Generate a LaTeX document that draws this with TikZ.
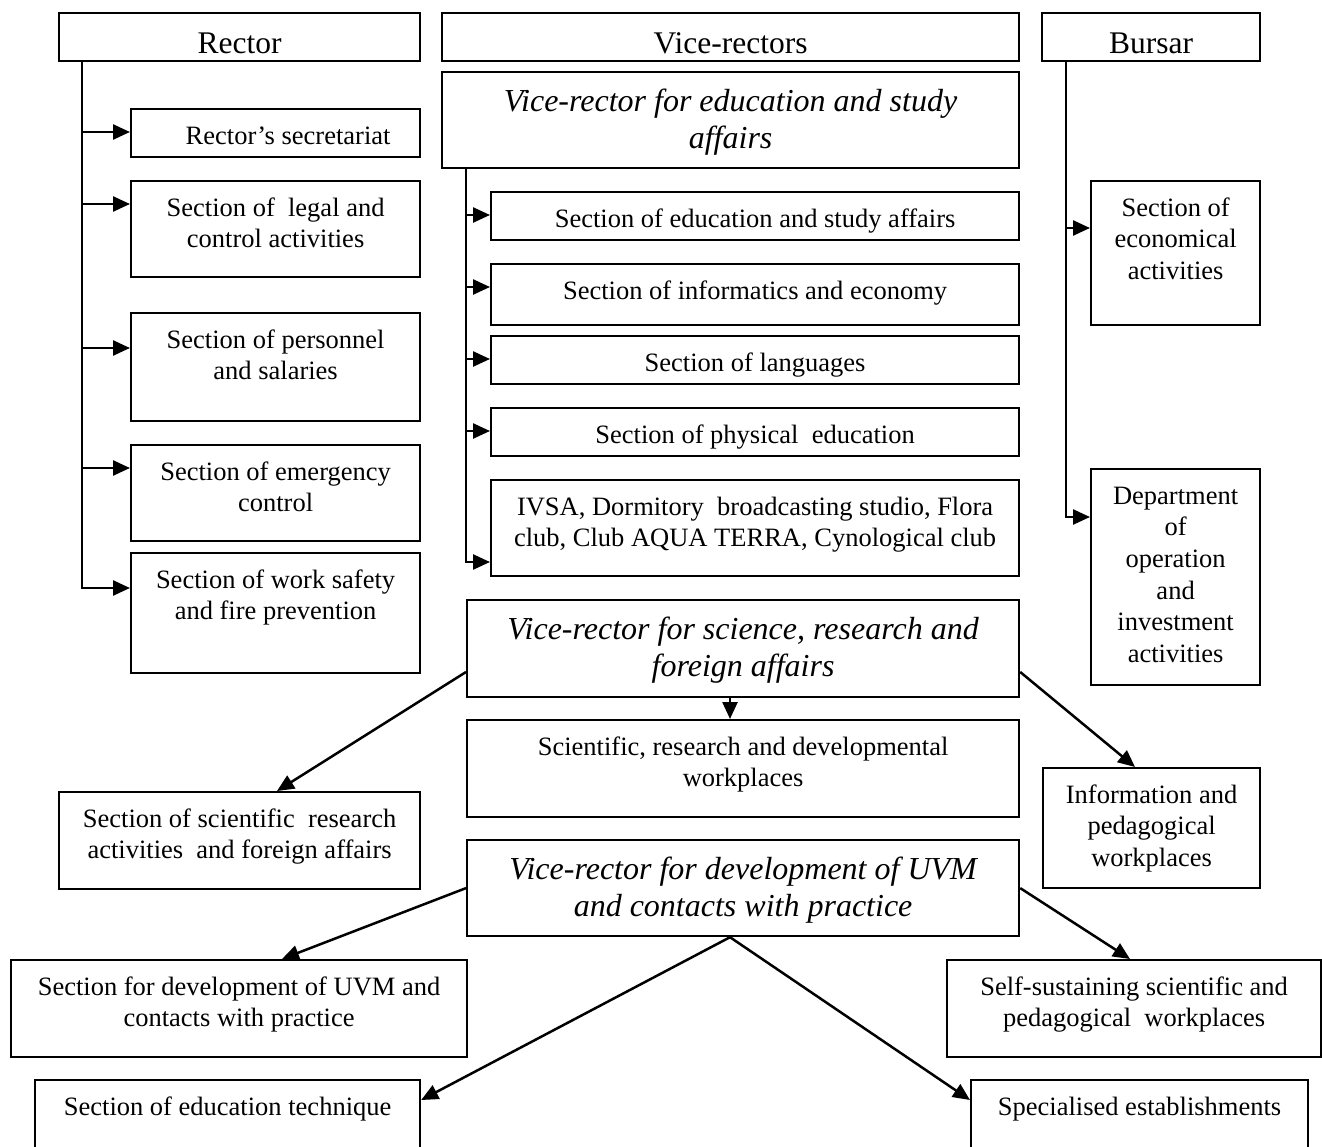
\documentclass[tikz,border=0pt]{standalone}
\usepackage{fontspec}
\setmainfont{Liberation Serif}
\usetikzlibrary{arrows.meta,calc}

\tikzset{
  unit/.style={draw, line width=2.2pt, inner sep=0pt, anchor=north west,
    font=\fontsize{26.5}{31.7}\selectfont},
  headunit/.style={unit, font=\fontsize{31.5}{37}\selectfont},
  vrunit/.style={unit, font=\fontsize{32}{37}\selectfont\itshape},
  link/.style={line width=2.5pt},
  arr/.style={link, -{Triangle[length=17pt,width=15pt]}}
}
\newcommand{\inbox}[4][35pt]{\parbox[t][#3][t]{#2}{\centering\rule{0pt}{#1}#4}}

\begin{document}
\begin{tikzpicture}[x=1pt,y=-1pt]
\useasboundingbox (0,0) rectangle (1322,1147);

\node[headunit] (rector) at (58,12) {\inbox[40pt]{361pt}{48pt}{Rector}};
\node[headunit] (vicer) at (441,12) {\inbox[40pt]{577pt}{48pt}{Vice-rectors}};
\node[headunit] (bursar) at (1041,12) {\inbox[40pt]{218pt}{48pt}{Bursar}};

\node[unit] (secr) at (130,108) {\inbox{289pt}{48pt}{\hspace*{25pt}Rector’s secretariat}};
\node[unit] (legal) at (130,180) {\inbox{289pt}{96pt}{Section of\ \ legal and\\control activities}};
\node[unit] (pers) at (130,312) {\inbox{289pt}{108pt}{Section of personnel\\and salaries}};
\node[unit] (emerg) at (130,444) {\inbox{289pt}{96pt}{Section of emergency\\control}};
\node[unit] (safety) at (130,552) {\inbox{289pt}{120pt}{Section of work safety\\and fire prevention}};

\node[vrunit] (vredu) at (441,71) {\inbox[39pt]{577pt}{96pt}{Vice-rector for education and study\\affairs}};
\node[unit] (secedu) at (490,191) {\inbox{528pt}{48pt}{Section of education and study affairs}};
\node[unit] (secinf) at (490,263) {\inbox{528pt}{61pt}{Section of informatics and economy}};
\node[unit] (seclang) at (490,335) {\inbox{528pt}{48pt}{Section of languages}};
\node[unit] (secphys) at (490,407) {\inbox{528pt}{48pt}{Section of physical\ \ education}};
\node[unit] (clubs) at (490,479) {\inbox{528pt}{96pt}{IVSA, Dormitory\ \ broadcasting studio, Flora\\club, Club AQUA TERRA, Cynological club}};

\node[vrunit] (vrsci) at (466,599) {\inbox[39pt]{552pt}{97pt}{Vice-rector for science, research and\\foreign affairs}};
\node[unit] (sciwork) at (466,719) {\inbox{552pt}{97pt}{Scientific, research and developmental\\workplaces}};
\node[vrunit] (vrdev) at (466,839) {\inbox[39pt]{552pt}{96pt}{Vice-rector for development of UVM\\and contacts with practice}};

\node[unit] (econ) at (1090,180) {\inbox{169pt}{144pt}{Section of\\economical\\activities}};
\node[unit] (dept) at (1090,468) {\inbox{169pt}{216pt}{Department\\of\\operation\\and\\investment\\activities}};
\node[unit] (info) at (1042,767) {\inbox{217pt}{120pt}{Information and\\pedagogical\\workplaces}};

\node[unit] (scires) at (58,791) {\inbox{361pt}{97pt}{Section of scientific\ \ research\\activities\ \ and foreign affairs}};
\node[unit] (devsec) at (10,959) {\inbox{456pt}{97pt}{Section for development of UVM and\\contacts with practice}};
\node[unit] (selfs) at (946,959) {\inbox{374pt}{97pt}{Self-sustaining scientific and\\pedagogical\ \ workplaces}};
\node[unit] (edutech) at (34,1079) {\inbox{385pt}{100pt}{Section of education technique}};
\node[unit] (special) at (970,1079) {\inbox{337pt}{100pt}{Specialised establishments}};

\coordinate (rtrunk) at ([xshift=24pt]rector.south west);
\coordinate (safety-in) at ([yshift=-36pt]safety.north west);
\draw[arr] (rtrunk) |- (safety-in);
\foreach \b/\d in {secr/24, legal/24, pers/36, emerg/24} {
  \coordinate (\b-in) at ([yshift=-\d pt]\b.north west);
  \draw[arr] (rtrunk |- \b-in) -- (\b-in);
}

\coordinate (etrunk) at ([xshift=25pt]vredu.south west);
\coordinate (clubs-in) at ([yshift=-83pt]clubs.north west);
\draw[arr] (etrunk) |- (clubs-in);
\foreach \b in {secedu, secinf, seclang, secphys} {
  \coordinate (\b-in) at ([yshift=-24pt]\b.north west);
  \draw[arr] (etrunk |- \b-in) -- (\b-in);
}

\coordinate (btrunk) at ([xshift=25pt]bursar.south west);
\coordinate (dept-in) at ([yshift=-49pt]dept.north west);
\draw[arr] (btrunk) |- (dept-in);
\coordinate (econ-in) at ([yshift=-48pt]econ.north west);
\draw[arr] (btrunk |- econ-in) -- (econ-in);

\draw[arr] ([yshift=-73pt]vrsci.north west) -- ([xshift=219pt]scires.north west);
\coordinate (vrsci-out) at ([xshift=264pt]vrsci.south west);
\draw[arr] (vrsci-out) -- (vrsci-out |- sciwork.north);
\draw[arr] ([yshift=-73pt]vrsci.north east) -- ([xshift=93pt]info.north west);

\draw[arr] (vrdev.west) -- ([xshift=272pt]devsec.north west);
\draw[arr] (vrdev.east) -- ([xshift=184pt]selfs.north west);
\coordinate (vrdev-out) at ([xshift=264pt]vrdev.south west);
\draw[arr] (vrdev-out) -- ([yshift=-21pt]edutech.north east);
\draw[arr] (vrdev-out) -- ([yshift=-21pt]special.north west);
\end{tikzpicture}
\end{document}
